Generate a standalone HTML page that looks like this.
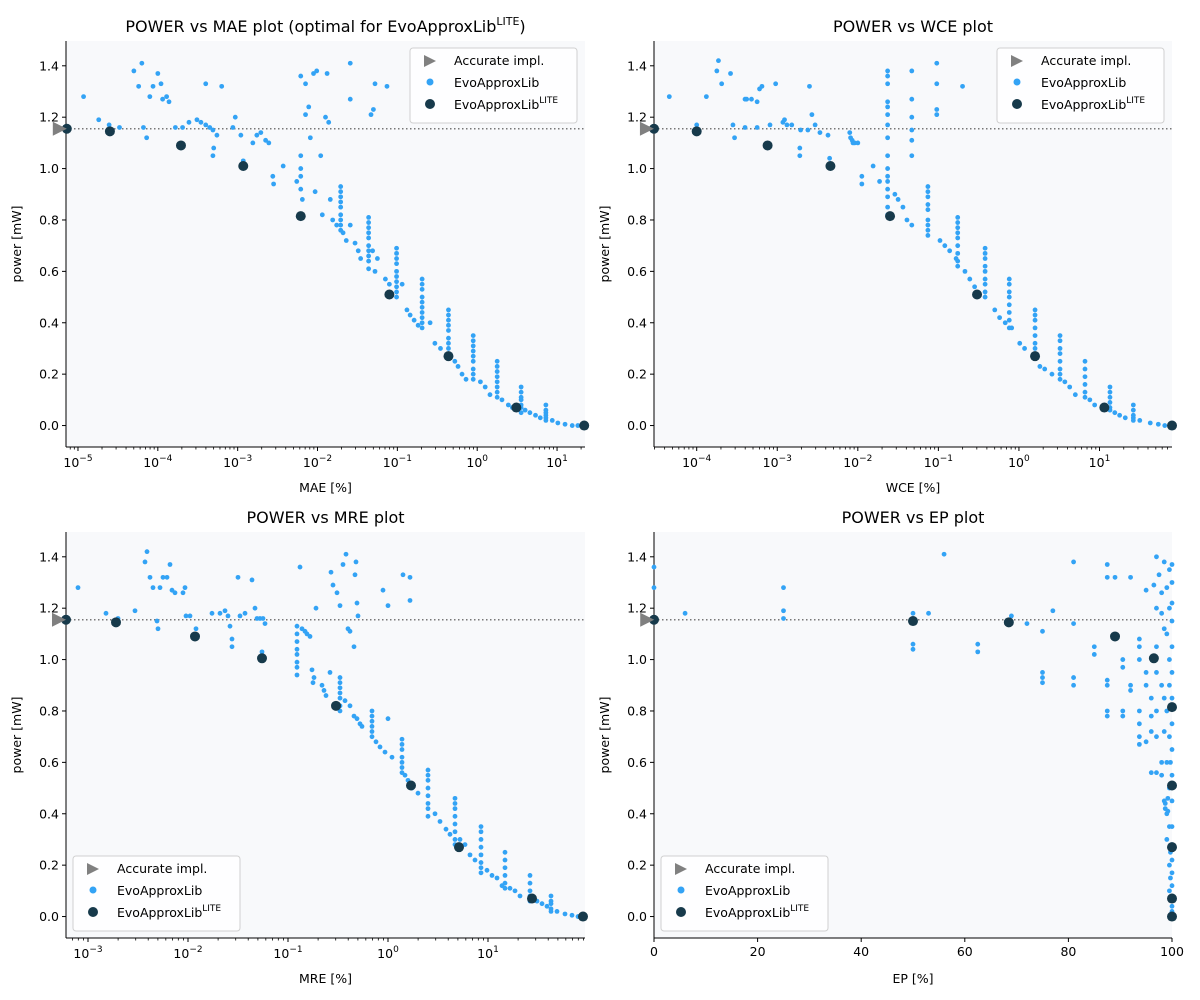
<!DOCTYPE html>
<html><head><meta charset="utf-8"><style>
body{margin:0;background:#fff;}
svg{display:block;font-family:"DejaVu Sans","Liberation Sans",sans-serif;}
</style></head><body>
<svg id="fig" width="1200" height="1000" viewBox="0 0 1200 1000" xmlns="http://www.w3.org/2000/svg"></svg>
<script>
// log10(MAE) and power for each EvoApproxLib circuit
const maeLogBlue = [[-4.93,1.28],[-4.30,1.38],[-4.24,1.32],[-4.2,1.41],[-4.1,1.28],[-4.06,1.32],[-4,1.37],[-3.96,1.33],[-3.89,1.28],[-3.86,1.26],[-3.94,1.27],[-4.14,1.12],[-4.18,1.16],[-4.74,1.19],[-4.61,1.17],[-4.48,1.16],[-3.78,1.16],[-3.69,1.16],[-3.61,1.18],[-3.51,1.19],[-3.46,1.18],[-3.4,1.17],[-3.35,1.16],[-3.31,1.15],[-3.4,1.33],[-3.2,1.32],[-3.3,1.08],[-3.31,1.05],[-3.26,1.13],[-3.06,1.16],[-3.03,1.2],[-2.96,1.13],[-2.93,1.03],[-2.81,1.1],[-2.76,1.13],[-2.71,1.14],[-2.65,1.11],[-2.61,1.1],[-2.56,0.97],[-2.55,0.94],[-2.43,1.01],[-2.26,0.95],[-2.21,1.36],[-2.15,1.33],[-2.05,1.37],[-2.01,1.38],[-1.88,1.37],[-1.59,1.41],[-1.59,1.27],[-1.33,1.21],[-1.3,1.23],[-1.28,1.33],[-1.13,1.32],[-2.21,1.05],[-2.21,1.0],[-2.21,0.97],[-2.21,0.92],[-2.19,0.88],[-2.15,1.21],[-2.11,1.24],[-2.09,1.12],[-2.03,0.91],[-1.96,1.05],[-1.94,0.82],[-1.9,1.2],[-1.86,1.18],[-1.84,0.88],[-1.81,0.8],[-1.76,0.78],[-1.71,0.93],[-1.71,0.91],[-1.71,0.89],[-1.71,0.87],[-1.71,0.85],[-1.71,0.82],[-1.71,0.8],[-1.71,0.78],[-1.71,0.76],[-1.68,0.75],[-1.64,0.72],[-1.59,0.78],[-1.53,0.71],[-1.49,0.68],[-1.46,0.65],[-1.36,0.81],[-1.36,0.79],[-1.36,0.77],[-1.36,0.75],[-1.36,0.73],[-1.36,0.7],[-1.36,0.68],[-1.36,0.66],[-1.36,0.64],[-1.36,0.61],[-1.31,0.68],[-1.28,0.6],[-1.25,0.65],[-1.15,0.57],[-1.1,0.55],[-1.01,0.69],[-1.01,0.67],[-1.01,0.65],[-1.01,0.63],[-1.01,0.6],[-1.01,0.58],[-1.01,0.56],[-1.01,0.54],[-1.01,0.52],[-1.01,0.5],[-0.94,0.55],[-0.88,0.45],[-0.84,0.43],[-0.79,0.41],[-0.74,0.39],[-0.69,0.57],[-0.69,0.55],[-0.69,0.53],[-0.69,0.5],[-0.69,0.48],[-0.69,0.46],[-0.69,0.44],[-0.69,0.42],[-0.69,0.4],[-0.69,0.38],[-0.59,0.4],[-0.53,0.32],[-0.46,0.3],[-0.36,0.45],[-0.36,0.43],[-0.36,0.41],[-0.36,0.39],[-0.36,0.37],[-0.36,0.34],[-0.36,0.32],[-0.36,0.3],[-0.36,0.28],[-0.36,0.26],[-0.28,0.25],[-0.24,0.23],[-0.19,0.2],[-0.14,0.18],[-0.05,0.35],[-0.05,0.33],[-0.05,0.31],[-0.05,0.29],[-0.05,0.27],[-0.05,0.25],[-0.05,0.22],[-0.05,0.2],[-0.05,0.18],[0.04,0.17],[0.1,0.15],[0.16,0.12],[0.25,0.25],[0.25,0.23],[0.25,0.21],[0.25,0.19],[0.25,0.17],[0.25,0.15],[0.25,0.13],[0.25,0.11],[0.31,0.1],[0.39,0.08],[0.44,0.07],[0.55,0.15],[0.55,0.13],[0.55,0.11],[0.55,0.1],[0.55,0.08],[0.55,0.07],[0.55,0.05],[0.6,0.06],[0.66,0.05],[0.73,0.04],[0.79,0.03],[0.86,0.08],[0.86,0.06],[0.86,0.05],[0.86,0.04],[0.86,0.03],[0.86,0.02],[0.94,0.02],[1.01,0.01],[1.1,0.005],[1.19,0],[1.26,0]];
const maeLogLite = [[-5.14,1.155],[-4.6,1.145],[-3.71,1.09],[-2.93,1.01],[-2.21,0.815],[-1.1,0.51],[-0.36,0.27],[0.49,0.07],[1.34,0]];
const maeLogAccurate = [[-5.24,1.155]];

const wceLogBlue = [[-4.34,1.28],[-4.0,1.17],[-3.88,1.28],[-3.75,1.38],[-3.73,1.42],[-3.69,1.33],[-3.58,1.37],[-3.55,1.17],[-3.53,1.12],[-3.4,1.27],[-3.38,1.27],[-3.32,1.27],[-3.25,1.26],[-3.22,1.31],[-3.19,1.32],[-3.02,1.33],[-2.93,1.18],[-2.91,1.19],[-2.88,1.17],[-2.82,1.17],[-2.71,1.15],[-2.6,1.32],[-2.57,1.21],[-3.4,1.16],[-3.25,1.16],[-3.09,1.17],[-2.72,1.08],[-2.72,1.05],[-2.62,1.15],[-2.53,1.17],[-2.37,1.13],[-2.35,1.04],[-2.47,1.14],[-2.1,1.14],[-2.09,1.12],[-2.07,1.11],[-2.06,1.1],[-2.04,1.1],[-2.0,1.1],[-1.95,0.97],[-1.95,0.94],[-1.81,1.01],[-1.73,0.95],[-1.63,1.38],[-1.63,1.36],[-1.63,1.33],[-1.63,1.26],[-1.63,1.24],[-1.63,1.21],[-1.63,1.17],[-1.63,1.12],[-1.63,1.05],[-1.63,1.0],[-1.63,0.97],[-1.63,0.95],[-1.63,0.92],[-1.63,0.89],[-1.63,0.85],[-1.63,0.82],[-1.33,1.38],[-1.33,1.27],[-1.33,1.2],[-1.33,1.15],[-1.33,1.11],[-1.33,1.05],[-1.02,1.41],[-1.02,1.33],[-1.02,1.23],[-1.02,1.21],[-0.7,1.32],[-1.54,0.9],[-1.5,0.88],[-1.44,0.85],[-1.39,0.8],[-1.33,0.78],[-1.13,0.93],[-1.13,0.91],[-1.13,0.89],[-1.13,0.86],[-1.13,0.84],[-1.13,0.8],[-1.13,0.78],[-1.13,0.76],[-1.13,0.74],[-0.98,0.72],[-0.92,0.7],[-0.86,0.68],[-0.78,0.65],[-0.76,0.81],[-0.76,0.79],[-0.76,0.77],[-0.76,0.75],[-0.76,0.73],[-0.76,0.7],[-0.76,0.67],[-0.76,0.64],[-0.76,0.62],[-0.67,0.6],[-0.61,0.57],[-0.55,0.54],[-0.42,0.69],[-0.42,0.67],[-0.42,0.65],[-0.42,0.62],[-0.42,0.6],[-0.42,0.57],[-0.42,0.55],[-0.42,0.52],[-0.42,0.5],[-0.3,0.45],[-0.24,0.42],[-0.17,0.4],[-0.09,0.38],[-0.12,0.57],[-0.12,0.55],[-0.12,0.52],[-0.12,0.5],[-0.12,0.47],[-0.12,0.44],[-0.12,0.41],[-0.12,0.38],[0.01,0.32],[0.07,0.3],[0.2,0.45],[0.2,0.43],[0.2,0.41],[0.2,0.38],[0.2,0.35],[0.2,0.32],[0.2,0.3],[0.2,0.28],[0.2,0.26],[0.26,0.23],[0.32,0.22],[0.41,0.2],[0.51,0.35],[0.51,0.33],[0.51,0.3],[0.51,0.28],[0.51,0.25],[0.51,0.22],[0.51,0.2],[0.51,0.18],[0.57,0.17],[0.63,0.15],[0.7,0.12],[0.82,0.25],[0.82,0.22],[0.82,0.19],[0.82,0.16],[0.82,0.13],[0.82,0.11],[0.88,0.1],[0.94,0.08],[1.13,0.15],[1.13,0.13],[1.13,0.11],[1.13,0.09],[1.13,0.07],[1.13,0.06],[1.19,0.05],[1.25,0.04],[1.32,0.03],[1.42,0.08],[1.42,0.06],[1.42,0.04],[1.42,0.03],[1.42,0.02],[1.5,0.02],[1.63,0.01],[1.73,0.005],[1.81,0],[1.88,0]];
const wceLogLite = [[-4.53,1.155],[-4.0,1.145],[-3.12,1.09],[-2.34,1.01],[-1.6,0.815],[-0.52,0.51],[0.2,0.27],[1.06,0.07],[1.9,0]];
const wceLogAccurate = [[-4.63,1.155]];

const mreLogBlue = [[-3.1,1.28],[-2.82,1.18],[-2.7,1.16],[-2.53,1.19],[-2.43,1.38],[-2.41,1.42],[-2.38,1.32],[-2.35,1.28],[-2.3,1.12],[-2.31,1.15],[-2.28,1.28],[-2.25,1.32],[-2.21,1.32],[-2.18,1.37],[-2.16,1.27],[-2.13,1.26],[-2.05,1.26],[-2.03,1.28],[-2.02,1.17],[-1.98,1.17],[-1.92,1.12],[-1.76,1.18],[-1.68,1.18],[-1.63,1.19],[-1.6,1.17],[-1.58,1.13],[-1.56,1.08],[-1.56,1.05],[-1.5,1.32],[-1.48,1.17],[-1.43,1.18],[-1.36,1.31],[-1.33,1.2],[-1.31,1.16],[-1.28,1.16],[-1.25,1.16],[-1.23,1.14],[-1.26,1.03],[-0.88,1.36],[-0.91,1.13],[-0.91,1.1],[-0.91,1.07],[-0.91,1.04],[-0.91,1.02],[-0.91,0.99],[-0.91,0.97],[-0.91,0.94],[-0.86,1.12],[-0.83,1.11],[-0.81,1.1],[-0.78,1.09],[-0.76,0.96],[-0.75,0.91],[-0.74,0.93],[-0.72,1.2],[-0.66,0.9],[-0.64,0.88],[-0.62,0.86],[-0.58,0.95],[-0.57,1.34],[-0.55,1.29],[-0.51,1.26],[-0.48,1.21],[-0.45,1.37],[-0.42,1.41],[-0.4,1.12],[-0.38,1.11],[-0.34,1.05],[-0.33,1.33],[-0.32,1.38],[-0.3,1.17],[-0.31,1.22],[-0.05,1.27],[0,1.21],[0.15,1.33],[0.22,1.32],[0.22,1.23],[-0.48,0.93],[-0.48,0.91],[-0.48,0.89],[-0.48,0.87],[-0.48,0.85],[-0.48,0.82],[-0.48,0.8],[-0.43,0.84],[-0.38,0.82],[-0.34,0.78],[-0.31,0.77],[-0.28,0.75],[-0.26,0.74],[-0.16,0.8],[-0.16,0.78],[-0.16,0.76],[-0.16,0.74],[-0.16,0.72],[-0.16,0.7],[-0.12,0.68],[-0.08,0.66],[-0.03,0.64],[0,0.77],[0.04,0.62],[0.14,0.69],[0.14,0.67],[0.14,0.65],[0.14,0.62],[0.14,0.6],[0.14,0.58],[0.14,0.56],[0.17,0.55],[0.2,0.53],[0.24,0.5],[0.3,0.48],[0.4,0.57],[0.4,0.55],[0.4,0.53],[0.4,0.5],[0.4,0.47],[0.4,0.44],[0.4,0.42],[0.4,0.39],[0.47,0.4],[0.52,0.37],[0.58,0.34],[0.62,0.32],[0.67,0.46],[0.67,0.44],[0.67,0.42],[0.67,0.39],[0.67,0.36],[0.67,0.33],[0.67,0.3],[0.67,0.28],[0.72,0.3],[0.77,0.28],[0.82,0.24],[0.87,0.22],[0.93,0.35],[0.93,0.33],[0.93,0.3],[0.93,0.27],[0.93,0.24],[0.93,0.21],[0.93,0.19],[0.93,0.17],[0.99,0.18],[1.04,0.16],[1.09,0.15],[1.14,0.12],[1.17,0.25],[1.17,0.22],[1.17,0.19],[1.17,0.16],[1.17,0.13],[1.17,0.11],[1.22,0.11],[1.27,0.1],[1.32,0.08],[1.42,0.16],[1.42,0.13],[1.42,0.1],[1.42,0.08],[1.42,0.06],[1.49,0.06],[1.54,0.05],[1.59,0.04],[1.63,0.08],[1.63,0.06],[1.63,0.05],[1.63,0.03],[1.63,0.02],[1.69,0.02],[1.77,0.01],[1.84,0.005],[1.9,0],[1.95,0]];
const mreLogLite = [[-3.22,1.155],[-2.72,1.145],[-1.93,1.09],[-1.26,1.005],[-0.52,0.82],[0.23,0.51],[0.71,0.27],[1.44,0.07],[1.95,0]];
const mreLogAccurate = [[-3.3,1.155]];

const epBlue = [[0,1.28],[0,1.36],[6,1.18],[25,1.28],[25,1.19],[25,1.16],[50,1.18],[50,1.06],[50,1.04],[53,1.18],[56,1.41],[62.5,1.06],[62.5,1.03],[69,1.17],[72,1.14],[75,1.11],[75,0.95],[75,0.93],[75,0.91],[77,1.19],[81,1.38],[81,0.93],[81,0.9],[81,1.14],[85,1.05],[85,1.02],[87.5,1.37],[87.5,1.32],[87.5,0.92],[87.5,0.9],[87.5,0.8],[87.5,0.78],[89,1.32],[90.5,1.0],[90.5,0.97],[90.5,0.8],[90.5,0.78],[92,1.32],[92,0.9],[92,0.88],[93.7,1.08],[93.7,1.05],[93.7,1.0],[93.7,0.8],[93.7,0.75],[93.7,0.7],[93.7,0.67],[95,1.27],[95,0.95],[95,0.9],[95,0.68],[96,0.85],[96,0.78],[96,0.72],[96,0.56],[96.5,1.29],[97,1.4],[97,1.2],[97,1.05],[97,0.95],[97,0.8],[97,0.7],[97,0.56],[97.5,1.33],[98,1.26],[98,1.18],[98,0.9],[98,0.6],[98,0.55],[98.5,1.38],[98.5,1.12],[98.5,0.85],[98.5,0.72],[98.5,0.45],[99,1.28],[99,1.1],[99,0.8],[99,0.6],[99,0.4],[99,0.3],[99.5,1.35],[99.5,1.2],[99.5,1.0],[99.5,0.9],[99.5,0.7],[99.5,0.5],[99.5,0.35],[99.5,0.2],[99.5,0.1],[100,1.37],[100,1.3],[100,1.22],[100,1.15],[100,1.05],[100,0.95],[100,0.85],[100,0.75],[100,0.65],[100,0.55],[100,0.45],[100,0.35],[100,0.28],[100,0.22],[100,0.17],[100,0.12],[100,0.08],[100,0.04],[100,0.02],[100,0],[98.7,0.44],[98.7,0.42],[99.2,0.46],[99.2,0.41],[99.7,0.6],[99.7,0.25],[99.7,0.15]];
const epLite = [[0,1.155],[50,1.15],[68.5,1.145],[89,1.09],[96.5,1.005],[100,0.815],[100,0.51],[100,0.27],[100,0.07],[100,0]];
const epAccurate = [[-1.5,1.155]];

const powerTicks = [0.0,0.2,0.4,0.6,0.8,1.0,1.2,1.4];
const accuratePower = 1.155;
const epTicks = [0,20,40,60,80,100];

const NS = "http://www.w3.org/2000/svg";
const svg = document.getElementById('fig');
function mk(tag, attrs, parent){const e=document.createElementNS(NS,tag);for(const k in attrs)e.setAttribute(k,attrs[k]);(parent||svg).appendChild(e);return e;}

const panels = [
 {id:'mae', L:66,R:585,T:41,B:447, xmin:-5.15, xmax:1.35, log:true, blue:maeLogBlue, lite:maeLogLite, acc:maeLogAccurate, xlabel:'MAE [%]', title:'POWER vs MAE plot (optimal for EvoApproxLib', titleSup:'LITE', titleEnd:')', legend:'tr', decades:[-5,-4,-3,-2,-1,0,1]},
 {id:'wce', L:654,R:1172,T:41,B:447, xmin:-4.53, xmax:1.9, log:true, blue:wceLogBlue, lite:wceLogLite, acc:wceLogAccurate, xlabel:'WCE [%]', title:'POWER vs WCE plot', legend:'tr', decades:[-4,-3,-2,-1,0,1]},
 {id:'mre', L:66,R:585,T:532,B:938, xmin:-3.22, xmax:1.97, log:true, blue:mreLogBlue, lite:mreLogLite, acc:mreLogAccurate, xlabel:'MRE [%]', title:'POWER vs MRE plot', legend:'bl', decades:[-3,-2,-1,0,1]},
 {id:'ep', L:654,R:1172,T:532,B:938, xmin:0, xmax:100, log:false, blue:epBlue, lite:epLite, acc:epAccurate, xlabel:'EP [%]', title:'POWER vs EP plot', legend:'bl', ticks:epTicks}
];
const YMIN=-0.0835, YMAX=1.4965;

panels.forEach(p=>{
  const g = mk('g',{});
  
  
  const xs = v => p.L + (v-p.xmin)/(p.xmax-p.xmin)*(p.R-p.L);
  const ys = v => p.B - (v-YMIN)/(YMAX-YMIN)*(p.B-p.T);
  const bg = mk('rect',{x:p.L,y:p.T,width:p.R-p.L,height:p.B-p.T,fill:'#f8f9fb'},g);
  
  
  // dotted reference line
  const ref = mk('line',{x1:p.L,x2:p.R,y1:ys(accuratePower),y2:ys(accuratePower),stroke:'#777','stroke-width':1.5,'stroke-dasharray':'1.5,2.5'},g);
  
  
  // y ticks
  powerTicks.forEach(t=>{
    const y=ys(t);
    mk('line',{x1:p.L-4,x2:p.L,y1:y,y2:y,stroke:'#000','stroke-width':1},g);
    const tx = mk('text',{x:p.L-7,y:y+4.5,'text-anchor':'end','font-size':12.5,fill:'#000'},g);
    tx.textContent=t.toFixed(1);
    
    
  });
  // x ticks
  if(p.log){
    for(let d=Math.floor(p.xmin)-1; d<=Math.ceil(p.xmax); d++){
      for(let m=2;m<=9;m++){const v=d+Math.log10(m); if(v>p.xmin&&v<p.xmax){const x=xs(v);mk('line',{x1:x,x2:x,y1:p.B,y2:p.B+2.5,stroke:'#000','stroke-width':0.8},g);}}
    }
    p.decades.forEach(d=>{
      const x=xs(d);
      mk('line',{x1:x,x2:x,y1:p.B,y2:p.B+4,stroke:'#000','stroke-width':1},g);
      const tx=mk('text',{x:x,y:p.B+20,'text-anchor':'middle','font-size':12.5},g);
      const a=mk('tspan',{},tx); a.textContent='10';
      const b=mk('tspan',{dy:-6,'font-size':9},tx); b.textContent=(d<0?'\u2212'+(-d):''+d);
      
      
    });
  } else {
    p.ticks.forEach(t=>{
      const x=xs(t);
      mk('line',{x1:x,x2:x,y1:p.B,y2:p.B+4,stroke:'#000','stroke-width':1},g);
      const tx=mk('text',{x:x,y:p.B+18,'text-anchor':'middle','font-size':12.5},g);
      tx.textContent=t;
      
      
    });
  }
  // spines
  mk('line',{x1:p.L,x2:p.L,y1:p.T,y2:p.B,stroke:'#000','stroke-width':1},g);
  mk('line',{x1:p.L,x2:p.R,y1:p.B,y2:p.B,stroke:'#000','stroke-width':1},g);
  // points
  p.blue.forEach(d=>{
    const c=mk('circle',{cx:xs(d[0]),cy:ys(d[1]),r:2.4,fill:'#33a3f5'},g);
    
    
  });
  p.lite.forEach(d=>{
    const c=mk('circle',{cx:xs(d[0]),cy:ys(d[1]),r:5,fill:'#173a4b'},g);
    
    
  });
  p.acc.forEach(d=>{
    const x=xs(d[0]), y=ys(d[1]);
    const tri=mk('polygon',{points:`${x-6},${y-7} ${x+8},${y} ${x-6},${y+7}`,fill:'#808080'},g);
    
    
  });
  // labels
  const xl=mk('text',{x:(p.L+p.R)/2,y:p.B+45,'text-anchor':'middle','font-size':12.5},g);
  xl.textContent=p.xlabel;
  
  
  const yl=mk('text',{x:0,y:0,'text-anchor':'middle','font-size':12.5,transform:`translate(${p.L-45},${(p.T+p.B)/2}) rotate(-90)`},g);
  yl.textContent='power [mW]';
  
  
  const tt=mk('text',{x:(p.L+p.R)/2,y:p.T-9,'text-anchor':'middle','font-size':16},g);
  const t1=mk('tspan',{},tt); t1.textContent=p.title;
  if(p.titleSup){const t2=mk('tspan',{dy:-7,'font-size':11},tt);t2.textContent=p.titleSup;const t3=mk('tspan',{dy:7},tt);t3.textContent=p.titleEnd;}
  
  
  // legend
  const lx = p.legend==='tr' ? p.R-175 : p.L+7;
  const ly = p.legend==='tr' ? p.T+7 : p.B-82;
  const lg=mk('g',{},g);
  
  
  mk('rect',{x:lx,y:ly,width:167,height:75,rx:3,fill:'#fff','fill-opacity':0.85,stroke:'#d0d0d0'},lg);
  mk('polygon',{points:`${lx+14},${ly+7} ${lx+26},${ly+13} ${lx+14},${ly+19}`,fill:'#808080'},lg);
  mk('circle',{cx:lx+20,cy:ly+34,r:3.5,fill:'#33a3f5'},lg);
  mk('circle',{cx:lx+20,cy:ly+56,r:5,fill:'#173a4b'},lg);
  const e1=mk('text',{x:lx+44,y:ly+17,'font-size':12.5},lg); e1.textContent='Accurate impl.';
  
  
  const e2=mk('text',{x:lx+44,y:ly+39,'font-size':12.5},lg); e2.textContent='EvoApproxLib';
  
  
  const e3=mk('text',{x:lx+44,y:ly+61,'font-size':12.5},lg);
  const s1=mk('tspan',{},e3); s1.textContent='EvoApproxLib';
  const s2=mk('tspan',{dy:-6,'font-size':9},e3); s2.textContent='LITE';
  
  
});
</script>
</body></html>
